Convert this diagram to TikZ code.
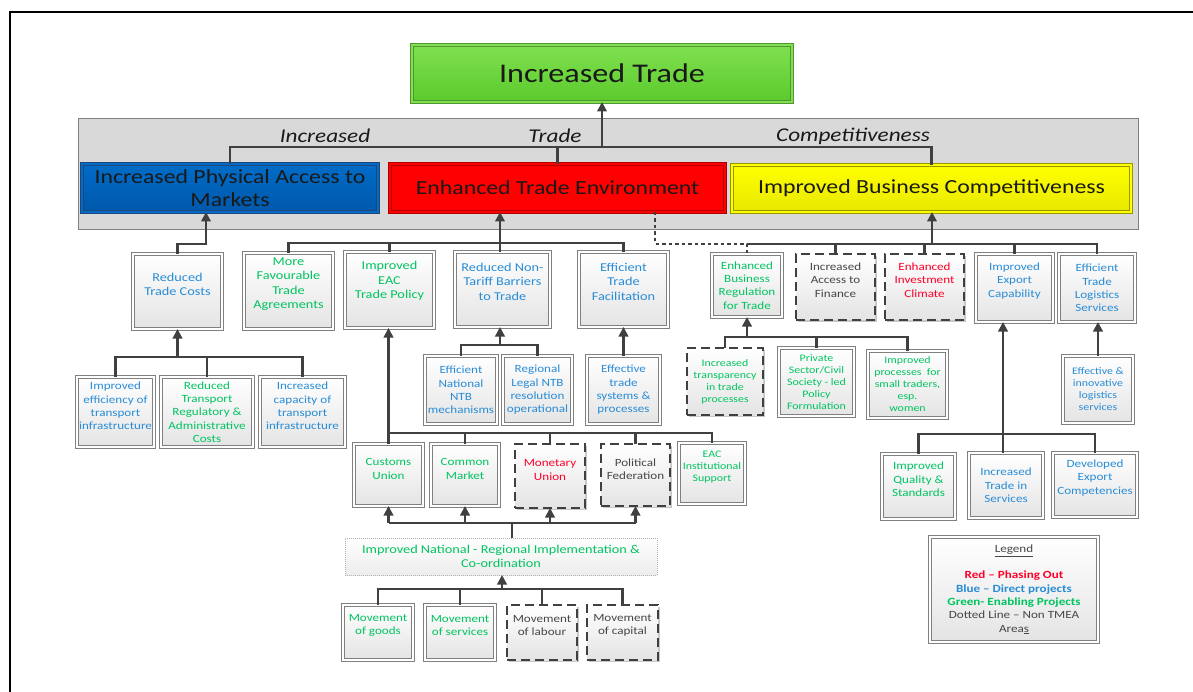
\documentclass[tikz,border=0pt]{standalone}
\usepackage{fontspec}
\setmainfont[FakeStretch=1.19]{Carlito}
\usetikzlibrary{arrows.meta,fit,calc,shadows}
\definecolor{cline}{RGB}{64,64,64}
\definecolor{boxgray}{RGB}{128,128,128}
\definecolor{boxbot}{RGB}{228,228,228}
\definecolor{tgreen}{RGB}{0,196,96}
\definecolor{tblue}{RGB}{40,140,215}
\definecolor{tred}{RGB}{255,0,40}
\definecolor{tdark}{RGB}{70,70,70}
\definecolor{tbig}{RGB}{25,25,25}
\definecolor{bandfill}{RGB}{217,217,217}
\definecolor{gtop}{RGB}{128,224,80}
\definecolor{gbot}{RGB}{90,202,44}
\definecolor{gbord}{RGB}{80,150,50}
\definecolor{btop}{RGB}{0,108,200}
\definecolor{bbot}{RGB}{0,88,170}
\definecolor{bbord}{RGB}{30,70,120}
\definecolor{rfill}{RGB}{255,0,0}
\definecolor{rbord}{RGB}{170,0,0}
\definecolor{ytop}{RGB}{255,255,0}
\definecolor{ybot}{RGB}{232,232,0}
\definecolor{ybord}{RGB}{150,150,0}
\tikzset{
  conn/.style={draw=cline, line width=2.2pt},
  arr/.style={conn, -{Triangle[length=9.5pt,width=9.5pt]}},
  dotconn/.style={draw=cline, line width=1.6pt, dash pattern=on 3.5pt off 3pt},
  bxbase/.style={rectangle, inner sep=0pt, outer sep=0pt},
  shad/.style={drop shadow={shadow xshift=1.6pt, shadow yshift=-1.6pt, opacity=0.22, fill=black}},
  nbox/.style={bxbase, shad, draw=boxgray, line width=1.1pt, double=white, double distance=1.4pt, top color=white, bottom color=boxbot},
  dbox/.style={bxbase, shad, draw=cline, line width=2.6pt, dash pattern=on 9pt off 5pt, top color=white, bottom color=boxbot},
  ibox/.style={bxbase, draw=gray!60, line width=1pt, densely dotted, top color=white, bottom color=boxbot!70},
  greenbox/.style={bxbase, draw=gbord, line width=1pt, double=gtop, double distance=1.5pt, top color=gtop, bottom color=gbot},
  bluebox/.style={bxbase, draw=bbord, line width=1pt, double=btop, double distance=1.5pt, top color=btop, bottom color=bbot},
  redbox/.style={bxbase, draw=rbord, line width=1pt, double=rfill, double distance=1.5pt, fill=rfill},
  yelbox/.style={bxbase, draw=ybord, line width=1pt, double=ytop, double distance=1.5pt, top color=ytop, bottom color=ybot},
  band/.style={bxbase, draw=boxgray, line width=1pt, fill=bandfill},
  txt/.style={align=center, inner sep=0pt},
  cg/.style={text=tgreen}, cb/.style={text=tblue}, cr/.style={text=tred}, cd/.style={text=tdark}, ct/.style={text=tbig},
  f12/.style={font=\fontsize{12}{14.5}\selectfont},
  f11/.style={font=\fontsize{11}{13.3}\selectfont},
  f10/.style={font=\fontsize{10}{12}\selectfont},
  fbig/.style={font=\fontsize{20}{23.5}\selectfont},
  ftitle/.style={font=\fontsize{27}{30}\selectfont},
  blab/.style={inner sep=0pt, text=tbig, font=\fontsize{19.5}{21}\selectfont\itshape},
}
\newcommand{\bx}[9]{%
  \node[#1, fit={(#3,#4) (#5,#6)}] (#2) {};
  \node[txt, #7] (#2t) at ([yshift=#8]#2.center) {#9};}
\begin{document}
\begin{tikzpicture}[x=1pt,y=-1pt]
\useasboundingbox (0,0) rectangle (1193,692);
\draw[line width=2pt, black] (10,692) -- (10,12) -- (1193,12);
% band
\node[band, fit={(78,119) (1138,230)}] (band) {};
\node[blab] (l1) at (325,136) {Increased};
\node[blab] (l2) at (555,136) {Trade};
\node[blab] (l3) at (853,136) {Competitiveness};
% top
\bx{greenbox}{it}{412}{45}{792}{102}{ct,ftitle}{0pt}{Increased Trade}
\bx{bluebox}{pam}{82}{164}{378}{212}{ct,fbig}{0pt}{Increased Physical Access to\\Markets}
\bx{redbox}{ete}{390}{164}{725}{212}{ct,fbig}{0pt}{Enhanced Trade Environment}
\bx{yelbox}{ibc}{732}{165}{1131}{212}{ct,fbig}{0pt}{Improved Business Competitiveness}
% left
\bx{nbox}{rtc}{133}{254}{222}{329}{cb,f12}{7pt}{Reduced\\Trade Costs}
\bx{nbox}{mfta}{244}{253}{333}{329}{cg,f12}{7pt}{More\\Favourable\\Trade\\Agreements}
\bx{nbox}{ieac}{345}{252}{434}{328}{cg,f12}{9pt}{Improved\\EAC\\Trade Policy}
\bx{nbox}{rntb}{455}{252}{550}{327}{cb,f12}{8pt}{Reduced Non-\\Tariff Barriers\\to Trade}
\bx{nbox}{etf}{579}{252}{668}{327}{cb,f12}{8pt}{Efficient\\Trade\\Facilitation}
\bx{nbox}{ie}{77}{377}{154}{447}{cb,f11}{6pt}{Improved\\efficiency of\\transport\\infrastructure}
\bx{nbox}{rtr}{161}{377}{253}{447}{cg,f11}{0pt}{Reduced\\Transport\\Regulatory \&\\Administrative\\Costs}
\bx{nbox}{icap}{260}{377}{345}{447}{cb,f11}{6pt}{Increased\\capacity of\\transport\\infrastructure}
\bx{nbox}{enntb}{425}{356}{497}{424}{cb,f11}{0pt}{Efficient\\National\\NTB\\mechanisms}
\bx{nbox}{rlntb}{503}{356}{572}{424}{cb,f11}{0pt}{Regional\\Legal NTB\\resolution\\operational}
\bx{nbox}{ets}{587}{356}{660}{424}{cb,f11}{0pt}{Effective\\trade\\systems \&\\processes}
\bx{nbox}{cu}{354}{444}{423}{506}{cg,f11}{6pt}{Customs\\Union}
\bx{nbox}{cm}{431}{444}{499}{506}{cg,f11}{6pt}{Common\\Market}
\bx{dbox}{mu}{515}{444}{585}{508}{cr,f11}{6pt}{Monetary\\Union}
\bx{dbox}{pf}{601}{444}{670}{506}{cd,f11}{6pt}{Political\\Federation}
\bx{nbox}{eis}{679}{443}{745}{504}{cg,f10}{6pt}{EAC\\Institutional\\Support}
\bx{ibox}{inr}{345}{538}{657}{575}{cg,f12}{0pt}{Improved National - Regional Implementation \&\\Co-ordination}
\bx{nbox}{mg}{343}{605}{413}{660}{cg,f11}{7pt}{Movement\\of goods}
\bx{nbox}{ms}{425}{605}{495}{660}{cg,f11}{7pt}{Movement\\of services}
\bx{dbox}{ml}{507}{605}{577}{660}{cd,f11}{7pt}{Movement\\of labour}
\bx{dbox}{mc}{587}{605}{658}{660}{cd,f11}{7pt}{Movement\\of capital}
% right
\bx{nbox}{ebr}{712}{254}{782}{317}{cg,f11}{0pt}{Enhanced\\Business\\Regulation\\for Trade}
\bx{dbox}{iaf}{796}{254}{875}{320}{cd,f11}{7pt}{Increased\\Access to\\Finance}
\bx{dbox}{eic}{885}{254}{964}{320}{cr,f11}{7pt}{Enhanced\\Investment\\Climate}
\bx{nbox}{iec}{976}{254}{1053}{322}{cb,f11}{7pt}{Improved\\Export\\Capability}
\bx{nbox}{etls}{1059}{254}{1135}{322}{cb,f11}{0pt}{Efficient\\Trade\\Logistics\\Services}
\bx{dbox}{itp}{687}{348}{763}{415}{cg,f10}{0pt}{Increased\\transparency\\in trade\\processes}
\bx{nbox}{ps}{779}{348}{854}{416}{cg,f10}{0pt}{Private\\Sector/Civil\\Society - led\\Policy\\Formulation}
\bx{nbox}{ip}{868}{351}{947}{418}{cg,f10}{0pt}{Improved\\processes\ \ for\\small traders,\\esp.\\women}
\bx{nbox}{eil}{1063}{356}{1133}{423}{cb,f10}{0pt}{Effective \&\\innovative\\logistics\\services}
\bx{nbox}{iqs}{882}{454}{955}{519}{cg,f11}{7pt}{Improved\\Quality \&\\Standards}
\bx{nbox}{its}{969}{453}{1043}{518}{cb,f11}{0pt}{Increased\\Trade in\\Services}
\bx{nbox}{dec}{1053}{453}{1137}{517}{cb,f11}{7pt}{Developed\\Export\\Competencies}
\bx{nbox}{leg}{930}{537}{1098}{642}{cd,f11}{0pt}{\underline{Legend}\\[13pt]
  {\bfseries\color{tred}Red – Phasing Out}\\
  {\bfseries\color{tblue}Blue – Direct projects}\\
  {\bfseries\color{tgreen}Green- Enabling Projects}\\
  Dotted Line – Non TMEA\\
  Area\underline{s}}
% connectors: top
\coordinate (b0) at (602,147);
\draw[conn] (pam.north) |- (b0) -| (ibc.north);
\draw[conn] (ete.north) -- (ete.north |- b0);
\draw[arr] (b0) -- (it.south);
% left cluster
\coordinate (j1) at (206,244);
\draw[arr] (rtc.north) |- (j1) -- (j1 |- pam.south);
\coordinate (j2) at (177,357);
\draw[conn] (ie.north) |- (j2) -| (icap.north);
\draw[conn] (rtr.north) -- (rtr.north |- j2);
\draw[arr] (rtc.south |- j2) -- (rtc.south);
% red cluster
\coordinate (j3) at (500,243);
\draw[conn] (mfta.north) |- (j3) -| (etf.north);
\draw[conn] (ieac.north) -- (ieac.north |- j3);
\draw[conn] (j3) -- (j3 |- rntb.north);
\draw[arr] (j3) -- (j3 |- ete.south);
\coordinate (j4) at (500,345);
\draw[conn] (enntb.north) |- (j4) -| (rlntb.north);
\draw[arr] (j4) -- (j4 |- rntb.south);
\draw[arr] (ets.north) -- (ets.north |- etf.south);
% EAC cluster
\coordinate (j5) at (389,433);
\draw[conn] (cu.north |- j5) -| (eis.north);
\draw[conn] (cm.north) -- (cm.north |- j5);
\draw[conn] (mu.north) -- (mu.north |- j5);
\draw[conn] (pf.north) -- (pf.north |- j5);
\draw[arr] (cu.north) -- (cu.north |- ieac.south);
\coordinate (j6) at (512,523);
\draw[conn] (inr.north -| j6) -- (j6);
\draw[conn] (cu.south |- j6) -- (pf.south |- j6);
\draw[arr] (cu.south |- j6) -- (cu.south);
\draw[arr] (cm.south |- j6) -- (cm.south);
\draw[arr] (mu.south |- j6) -- (mu.south);
\draw[arr] (pf.south |- j6) -- (pf.south);
\coordinate (j7) at (502,589);
\draw[conn] (mg.north) |- (j7) -| (mc.north);
\draw[conn] (ms.north) -- (ms.north |- j7);
\draw[conn] (ml.north) -- (ml.north |- j7);
\draw[arr] (j7) -- (j7 |- inr.south);
% right cluster
\coordinate (j8) at (932,244);
\coordinate (dx) at (655,244);
\draw[dotconn] (ete.south -| dx) -- (dx) -- (ebr.north |- dx) -- (ebr.north);
\draw[conn] (ebr.north |- j8) -| (etls.north);
\draw[conn] (iaf.north) -- (iaf.north |- j8);
\draw[conn] (eic.north) -- (eic.north |- j8);
\draw[conn] (iec.north) -- (iec.north |- j8);
\draw[arr] (j8) -- (j8 |- ibc.south);
\coordinate (j9) at (747,337);
\draw[conn] (itp.north) |- (j9) -| (ip.north);
\draw[conn] (ps.north) -- (ps.north |- j9);
\draw[arr] (j9) -- (j9 |- ebr.south);
\draw[arr] (eil.north) -- (eil.north |- etls.south);
\coordinate (j10) at (1003,434);
\draw[conn] (iqs.north) |- (j10) -| (dec.north);
\draw[conn] (j10) -- (j10 |- its.north);
\draw[arr] (j10) -- (j10 |- iec.south);
\end{tikzpicture}
\end{document}
